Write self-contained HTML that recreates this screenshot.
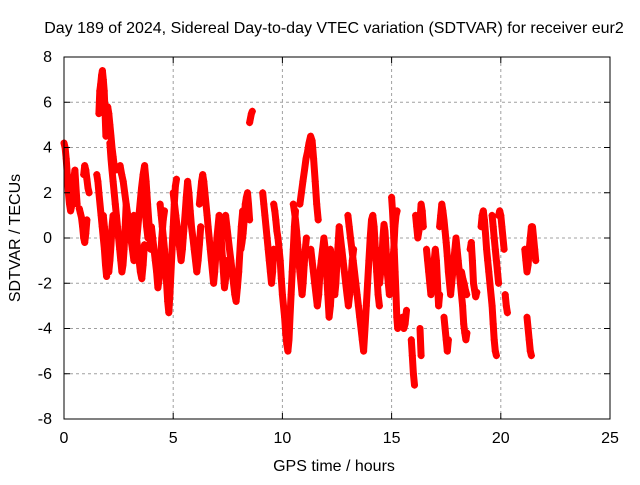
<!DOCTYPE html>
<html><head><meta charset="utf-8"><style>
body{margin:0;background:#fff;font-family:"Liberation Sans",sans-serif}
svg text{font-family:"Liberation Sans",sans-serif;font-size:16px;fill:#000}
</style></head><body>
<svg id="chart" width="640" height="480" xmlns="http://www.w3.org/2000/svg">
<text x="334" y="33" text-anchor="middle">Day 189 of 2024, Sidereal Day-to-day VTEC variation (SDTVAR) for receiver eur2</text>
<text x="334" y="471" text-anchor="middle">GPS time / hours</text>
<text x="20" y="238" text-anchor="middle" transform="rotate(-90 20 238)">SDTVAR / TECUs</text>
<g id="grid"></g><g id="marks"></g><g id="axes"></g>
</svg>
<script>
const xTicks=[0,5,10,15,20,25];
const yTicks=[-8,-6,-4,-2,0,2,4,6,8];
// tracks: [startHour, stepHours, values...]
const trackStarts=[0.0,0.7,0.9,1.5,1.6,1.8,2.1,2.0,2.5,3.2,3.6,4.0,4.4,5.0,6.2,7.4,8.1,8.5,9.1,9.6,10.5,10.8,11.3,12.2,12.6,13.0,14.3,15.0,15.5,15.9,16.1,16.3,16.6,17.2,17.4,18.2,18.6,19.1,19.6,19.9,20.2,21.1,21.2];
const trackSteps=[0.05,0.05,0.05,0.05,0.04,0.05,0.05,0.05,0.07,0.06,0.06,0.06,0.05,0.06,0.05,0.06,0.05,0.04,0.05,0.05,0.05,0.07,0.06,0.05,0.06,0.06,0.05,0.04,0.06,0.05,0.05,0.05,0.05,0.05,0.05,0.06,0.05,0.05,0.05,0.05,0.05,0.05,0.05];
const trackValues=[
[4.2,4.0,3.5,2.8,2.0,1.5,1.2,1.4,2.0,2.6,3.0,2.2,1.5],
[1.3,1.1,0.9,0.5,0.0,-0.2,0.2,0.8],
[2.8,3.2,3.0,2.6,2.2,2.0],
[2.8,2.5,2.0,1.5,1.0,0.5,0.0,-0.5,-1.2,-1.7],
[5.5,6.5,6.8,7.2,7.4,7.0,6.5,5.5,4.5],
[1.0,0.5,0,-0.5,-1.0,-1.5,-1.0,-0.3,0.5,1.0],
[4.2,3.5,3.0,2.5,2.0,1.5,1.0,0.5,0,-0.5,-1,-1.5,-1.2,-0.5,0.5,1.5],
[5.8,5.5,5.0,4.5,4.0,3.6,3.2,3.0],
[3.0,3.2,2.8,2.5,2.0,1.5,1.0,0.5,0,-0.5,-1.0,-0.5,0,0.8,1.5,2.2,2.8,3.2,2.5,1.5,0.5,-0.5],
[1.0,0.5,0,-0.5,-1,-1.5,-1.8,-1.2,-0.3],
[1.5,1.8,1.2,0.5,0],
[0.5,0,-0.5,-1.0,-1.5,-2.2,-1.8,-1.0,0,0.8,1.2],
[1.5,1.0,0.5,0,-0.5,-1.2,-2.0,-2.8,-3.3,-2.5,-1.5,-0.5,0.5,1.5,2.3,2.6],
[2.0,1.5,1.0,0.5,0,-0.5,-1.0,-0.5,0.3,1.0,1.8,2.5,2.0,1.2,0.5,0,-0.5,-1.0,-1.5,-1.0,-0.3,0.5],
[1.5,2.0,2.5,2.8,2.5,2.0,1.5,1.0,0.5,0,-0.5,-1.0,-1.5,-2.0,-1.5,-0.8,0,0.5,1.0,0.5,0,-0.8,-1.5,-2.2,-1.8,-1.0],
[1.0,0.5,0,-0.5,-1.0,-1.5,-2.0,-2.5,-2.8,-2.2,-1.5,-0.5,0.5,1.2],
[-0.5,-0.2,0.2,0.8,1.5,1.8,2.0,1.5,0.8],
[5.1,5.3,5.5,5.6],
[2.0,1.5,1.0,0.5,0,-0.5,-1.0,-1.5,-2.0,-1.5,-0.5],
[1.5,1.2,0.8,0.3,0,-0.5,-1.0,-1.8,-2.5,-3.0,-3.5,-4.2,-4.7,-5.0,-4.5,-3.5,-2.5,-1.5,-0.5,0.5,1.2],
[1.5,1.2,0.8,0.3,-0.3,-1.0,-1.5,-2.0,-2.5,-2.0,-1.2,-0.5,0],
[1.5,2.0,2.5,3.0,3.5,3.8,4.2,4.5,4.3,3.5,2.5,1.5,0.8],
[-0.5,-1.0,-1.5,-2.0,-2.5,-3.0,-2.5,-1.5,-1.0,-0.5,0,-0.5,-1.5,-2.5,-3.5,-3.0,-2.0],
[-0.5,-1.0,-1.5,-2.0,-2.5,-2.0,-1.0,-0.3,0.5],
[0.5,0,-0.5,-1.0,-1.5,-2.0,-2.5,-3.0,-2.5,-1.8,-1.0,-0.5],
[1.0,0.5,0,-0.5,-1.0,-1.5,-2.0,-2.5,-3.0,-3.5,-4.0,-4.5,-5.0,-4.0,-3.0,-2.0,-1.0,0,0.8,1.0,0.5,-0.5,-1.5,-2.5,-3.0],
[-0.5,-1.0,-1.5,-2.0,-1.5,-1.0,0,0.6,0.3,-0.5,-1.5,-2.0,-2.5,-2.0,-1.5,-1.0,-0.5,0.5,1.0,1.2],
[1.8,1.2,0.5,-0.5,-1.5,-2.5,-3.5,-4.0],
[-3.5,-4.0,-3.8,-3.2],
[-4.5,-5.2,-6.0,-6.5],
[1.0,0.5,0,0.3,0.8,1.5,1.2,0.5],
[-4.0,-5.2],
[-0.5,-1.0,-1.5,-2.0,-2.5,-2.0,-1.5,-1.0,-0.5,-1.0,-2.0,-3.0,-2.5],
[0.5,1.0,1.5,1.2,0.8,0.3,-0.2,-0.8,-1.5,-2.0,-2.5,-2.0,-1.5,-1.0,-0.5,0,-0.5,-1.0,-1.5,-2.0,-2.5,-3.0,-3.8,-4.2,-4.5,-4.2],
[-3.5,-4.0,-4.5,-5.0,-4.5],
[-1.5,-1.8,-2.0,-2.3,-2.5],
[-0.5,-0.2,-1.0,-2.0,-2.3,-2.6,-2.4],
[0.5,1.0,1.2,0.8,0.2,-0.5,-1.0,-1.5,-2.0,-2.5,-3.0,-3.8,-4.5,-5.0,-5.2],
[1.0,0.5,0,-0.5,-1.0,-1.5,-2.0],
[1.0,1.2,1.0,0.5,0,-0.5],
[-2.5,-3.0,-3.3],
[-0.5,-1.0,-1.5,-1.2,-0.5,0,0.5,0.5,0,-0.5,-1.0],
[-3.5,-4.0,-4.5,-5.0,-5.2]
];
const NS='http://www.w3.org/2000/svg';
const L=64,R=610,T=57,B=419;
const xs=v=>L+(v-0)/(25-0)*(R-L);
const ys=v=>B-(v+8)/16*(B-T);
function mk(tag,attrs,parent){const e=document.createElementNS(NS,tag);for(const k in attrs)e.setAttribute(k,attrs[k]);parent.appendChild(e);return e;}
const grid=document.getElementById('grid'),axes=document.getElementById('axes'),marks=document.getElementById('marks');
xTicks.forEach(t=>{const x=xs(t);
 if(t>0&&t<25){const g=mk('line',{x1:x,x2:x,y1:T,y2:B,stroke:'#a0a0a0','stroke-dasharray':'3,3'},grid);}
 const lab=mk('text',{x:x,y:443,'text-anchor':'middle'},axes);lab.textContent=t;
 
 
 mk('line',{x1:x,x2:x,y1:B,y2:B-6,stroke:'#000'},axes);mk('line',{x1:x,x2:x,y1:T,y2:T+6,stroke:'#000'},axes);});
yTicks.forEach(t=>{const y=ys(t);
 if(t>-8&&t<8){const g=mk('line',{x1:L,x2:R,y1:y,y2:y,stroke:'#a0a0a0','stroke-dasharray':'3,3'},grid);}
 const lab=mk('text',{x:52,y:y+5,'text-anchor':'end'},axes);lab.textContent=t;
 
 
 mk('line',{x1:L,x2:L+6,y1:y,y2:y,stroke:'#000'},axes);mk('line',{x1:R,x2:R-6,y1:y,y2:y,stroke:'#000'},axes);});
const frame=mk('rect',{x:L,y:T,width:R-L,height:B-T,fill:'none',stroke:'#000'},axes);


let d='',ld='';
trackValues.forEach((vals,i)=>{vals.forEach((v,j)=>{const x=xs(trackStarts[i]+j*trackSteps[i]),y=ys(v);
 ld+=(j?'L':'M')+x.toFixed(1)+' '+y.toFixed(1);
 d+=`M${(x-3.5).toFixed(1)} ${y.toFixed(1)}h7M${x.toFixed(1)} ${(y-3.5).toFixed(1)}v7`;});});
const band=mk('path',{d:ld,stroke:'#ff0000','stroke-width':7,'stroke-linejoin':'round','stroke-linecap':'round',fill:'none'},marks);


const p=mk('path',{d:d,stroke:'#ff0000','stroke-width':1.2,fill:'none'},marks);


</script>
</body></html>
